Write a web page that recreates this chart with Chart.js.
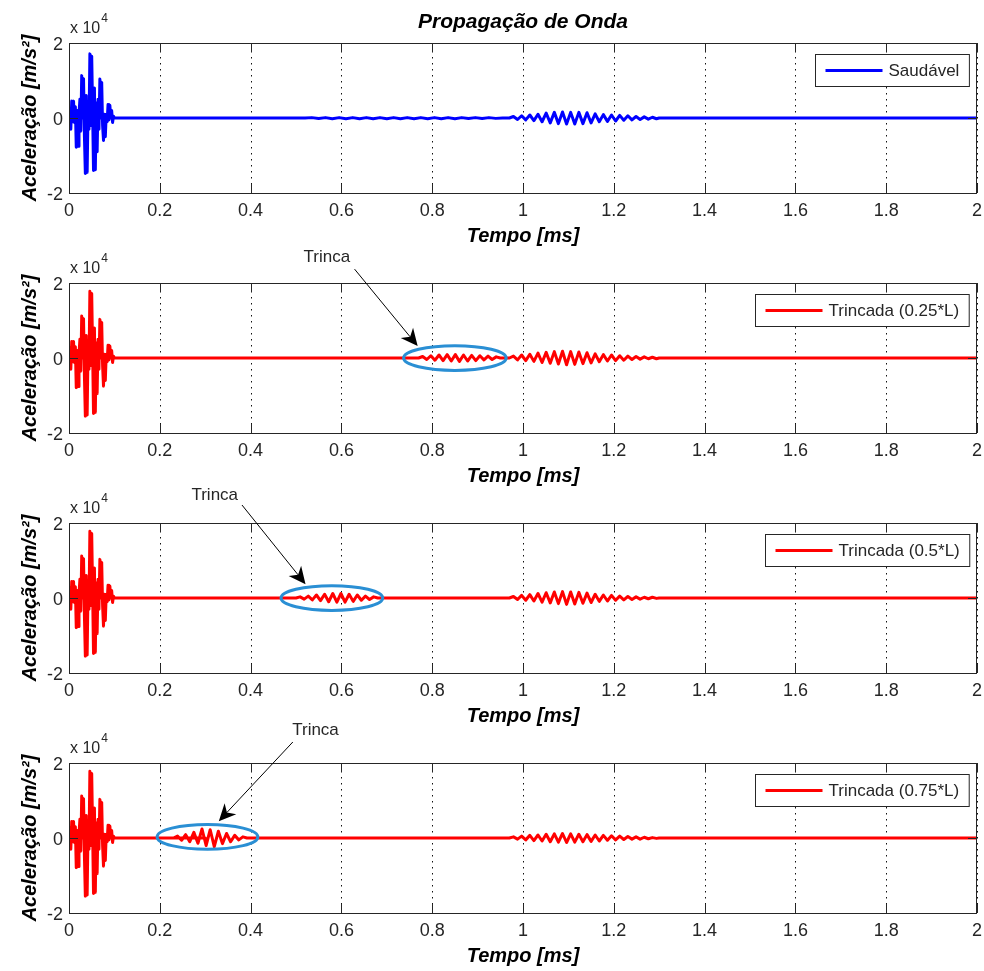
<!DOCTYPE html>
<html><head><meta charset="utf-8">
<script src="https://cdn.jsdelivr.net/npm/chart.js@4/dist/chart.umd.min.js"></script>
<style>
html,body{margin:0;padding:0;background:#fff;}
#wrap{position:relative;width:984px;height:971px;overflow:hidden;background:#fff;}
canvas{position:absolute;left:0;}
</style></head><body><div id="wrap">
<canvas id="c0" width="984" height="251" style="top:0px"></canvas>
<canvas id="c1" width="984" height="251" style="top:240px"></canvas>
<canvas id="c2" width="984" height="251" style="top:480px"></canvas>
<canvas id="c3" width="984" height="251" style="top:720px"></canvas>
</div>
<script>
// ---------- texts & ticks ----------
const tituloGeral = 'Propagação de Onda';
const rotuloX = 'Tempo [ms]';
const rotuloY = 'Aceleração [m/s²]';
const legendas = ['Saudável', 'Trincada (0.25*L)', 'Trincada (0.5*L)', 'Trincada (0.75*L)'];
const xTicks = [0, 0.2, 0.4, 0.6, 0.8, 1, 1.2, 1.4, 1.6, 1.8, 2];
const xTickLabels = ['0', '0.2', '0.4', '0.6', '0.8', '1', '1.2', '1.4', '1.6', '1.8', '2'];
const yTicks = [-2, 0, 2];
const yTickLabels = ['-2', '0', '2'];

// ---------- data (acceleration in units of 10^4 m/s², time in ms) ----------
// excitation burst (0 - 0.1 ms)
const burstT = [0,0.002,0.004,0.006,0.008,0.010,0.012,0.014,0.016,0.018,0.020,0.022,0.024,0.026,0.028,0.030,0.032,0.034,0.036,0.038,0.040,0.042,0.044,0.046,0.048,0.050,0.052,0.054,0.056,0.058,0.060,0.062,0.064,0.066,0.068,0.070,0.072,0.074,0.076,0.078,0.080,0.082,0.084,0.086,0.088,0.090,0.092,0.094,0.096,0.098,0.100];
const burstSaudavel = [0,0.25,-0.30,0.45,-0.10,0.45,-0.12,0.30,-0.78,0.20,-0.75,0.10,0.50,-0.35,1.13,0.00,1.05,-0.50,-1.48,0.60,-1.45,0.30,-0.30,1.71,-0.20,1.65,0.20,-1.40,0.80,-1.38,0.40,-0.90,0.50,-0.30,1.04,0.00,0.95,-0.20,-0.60,0.10,-0.50,0.10,-0.10,0.36,-0.05,0.34,0.00,0.20,-0.12,0.05,0];
const burstTrincada = [0,0.28,-0.30,0.44,-0.10,0.44,-0.12,0.30,-0.79,0.20,-0.76,0.10,0.50,-0.35,1.12,0.00,1.05,-0.50,-1.55,0.60,-1.52,0.30,-0.30,1.78,-0.20,1.72,0.20,-1.48,0.80,-1.45,0.40,-0.95,0.50,-0.30,1.03,0.00,0.95,-0.20,-0.75,0.10,-0.60,0.10,-0.10,0.34,-0.05,0.32,0.00,0.20,-0.12,0.05,0];

// boundary reflection (≈0.97 - 1.30 ms)
const reflexaoT = [0.970,0.979,0.988,0.997,1.006,1.015,1.024,1.033,1.042,1.051,1.060,1.069,1.078,1.087,1.096,1.105,1.114,1.123,1.132,1.141,1.150,1.159,1.168,1.177,1.186,1.195,1.204,1.213,1.222,1.231,1.240,1.249,1.258,1.267,1.276,1.285,1.294];
const reflexaoSaudavel = [0,0.04,-0.04,0.06,-0.05,0.08,-0.07,0.10,-0.10,0.13,-0.13,0.15,-0.15,0.16,-0.16,0.15,-0.16,0.15,-0.15,0.14,-0.13,0.11,-0.10,0.09,-0.09,0.08,-0.08,0.07,-0.06,0.06,-0.05,0.04,-0.04,0.03,-0.03,0.02,-0.02];
const reflexao025 = [0,0.05,-0.05,0.08,-0.07,0.10,-0.09,0.13,-0.12,0.15,-0.14,0.17,-0.16,0.18,-0.18,0.17,-0.17,0.16,-0.15,0.14,-0.13,0.11,-0.10,0.09,-0.08,0.08,-0.07,0.06,-0.06,0.05,-0.04,0.04,-0.03,0.03,-0.02,0.02,-0.02];
const reflexao050 = [0,0.04,-0.04,0.07,-0.06,0.09,-0.08,0.12,-0.11,0.14,-0.13,0.16,-0.15,0.17,-0.17,0.16,-0.16,0.15,-0.14,0.13,-0.12,0.10,-0.09,0.08,-0.08,0.07,-0.06,0.05,-0.05,0.04,-0.04,0.03,-0.03,0.02,-0.02,0.02,-0.01];
const reflexao075 = [0,0.03,-0.03,0.05,-0.05,0.07,-0.07,0.08,-0.08,0.10,-0.10,0.11,-0.11,0.12,-0.12,0.11,-0.11,0.10,-0.10,0.09,-0.09,0.08,-0.08,0.07,-0.06,0.06,-0.05,0.05,-0.04,0.04,-0.03,0.03,-0.03,0.02,-0.02,0.01,-0.01];

// small ripple of the healthy beam (0.52 - 0.96 ms)
const rippleT = [0.52,0.535,0.55,0.565,0.58,0.595,0.61,0.625,0.64,0.655,0.67,0.685,0.70,0.715,0.73,0.745,0.76,0.775,0.79,0.805,0.82,0.835,0.85,0.865,0.88,0.895,0.91,0.925,0.94,0.955];
const rippleSaudavel = [0,0.01,-0.015,0.01,-0.02,0.01,-0.02,0.01,-0.02,0.01,-0.02,0.01,-0.02,0.01,-0.02,0.01,-0.02,0.01,-0.02,0.01,-0.02,0.01,-0.02,0.01,-0.015,0.01,-0.015,0.01,-0.01,0];

// crack reflections
const trinca025T = [0.770,0.779,0.788,0.797,0.806,0.815,0.824,0.833,0.842,0.851,0.860,0.869,0.878,0.887,0.896,0.905,0.914,0.923,0.932,0.941,0.950];
const trinca025A = [0,0.04,-0.04,0.06,-0.06,0.08,-0.07,0.09,-0.08,0.09,-0.09,0.08,-0.08,0.07,-0.07,0.06,-0.05,0.05,-0.04,0.03,0];
const trinca050T = [0.500,0.509,0.518,0.527,0.536,0.545,0.554,0.563,0.572,0.581,0.590,0.599,0.608,0.617,0.626,0.635,0.644,0.653,0.662,0.671,0.680];
const trinca050A = [0,0.03,-0.03,0.05,-0.05,0.08,-0.07,0.10,-0.10,0.12,-0.11,0.12,-0.11,0.10,-0.09,0.08,-0.06,0.05,-0.04,0.03,0];
const trinca075T = [0.230,0.239,0.248,0.257,0.266,0.275,0.284,0.293,0.302,0.311,0.320,0.329,0.338,0.347,0.356,0.365,0.374,0.383,0.392];
const trinca075A = [0,0.05,-0.06,0.09,-0.10,0.15,-0.14,0.24,-0.20,0.22,-0.23,0.18,-0.15,0.12,-0.10,0.07,-0.05,0.03,0];

// quiet stretches
const quietoInicioT = [0.105, 0.3];
const quietoInicioA = [0, 0];
const quietoFimT = [1.30, 1.6, 2.0];
const quietoFimA = [0, 0, 0];

// ---------- build series ----------
function pts(ts, as){ return ts.map((t,i)=>({x:t, y:as[i]})); }
const series = [
  [].concat(pts(burstT,burstSaudavel), pts(quietoInicioT,quietoInicioA), pts(rippleT,rippleSaudavel), pts(reflexaoT,reflexaoSaudavel), pts(quietoFimT,quietoFimA)),
  [].concat(pts(burstT,burstTrincada), pts(quietoInicioT,quietoInicioA), pts(trinca025T,trinca025A), pts(reflexaoT,reflexao025), pts(quietoFimT,quietoFimA)),
  [].concat(pts(burstT,burstTrincada), pts(quietoInicioT,quietoInicioA), pts(trinca050T,trinca050A), pts(reflexaoT,reflexao050), pts(quietoFimT,quietoFimA)),
  [].concat(pts(burstT,burstTrincada), pts(quietoInicioT,quietoInicioA), pts(trinca075T,trinca075A), pts(reflexaoT,reflexao075), pts(quietoFimT,quietoFimA))
];
const cores = ['#0000ff', '#ff0000', '#ff0000', '#ff0000'];

// annotations in data coordinates (ellipse centre / radii, arrow, label)
const anotacoes = [
  null,
  {ex:0.850, ey:0.00, erx:0.113, ery:0.33, tx:0.568, ty:2.69, ax0:0.629, ay0:2.37, ax1:0.768, ay1:0.32},
  {ex:0.579, ey:0.00, erx:0.112, ery:0.33, tx:0.321, ty:2.75, ax0:0.381, ay0:2.48, ax1:0.521, ay1:0.37},
  {ex:0.305, ey:0.03, erx:0.111, ery:0.33, tx:0.543, ty:2.88, ax0:0.493, ay0:2.56, ax1:0.330, ay1:0.45}
];

const FONT = "'Liberation Sans', Arial, Helvetica, sans-serif";
const INK = '#262626';

function decoPlugin(idx){
  return {
    id: 'deco' + idx,
    beforeDatasetsDraw(chart){
      const ctx = chart.ctx, a = chart.chartArea, sx = chart.scales.x;
      ctx.save();
      ctx.strokeStyle = '#111'; ctx.lineWidth = 1;
      ctx.setLineDash([1.5, 4.5]);
      ctx.beginPath();
      xTicks.forEach(v=>{
        const px = Math.round(sx.getPixelForValue(v)) + 0.5;
        ctx.moveTo(px, a.top + 2); ctx.lineTo(px, a.bottom);
      });
      ctx.stroke();
      ctx.restore();
    },
    afterDatasetsDraw(chart){
      const ctx = chart.ctx, a = chart.chartArea, sx = chart.scales.x, sy = chart.scales.y;
      ctx.save();
      // frame
      ctx.strokeStyle = INK; ctx.lineWidth = 1;
      ctx.strokeRect(Math.round(a.left)+0.5, Math.round(a.top)+0.5, Math.round(a.right-a.left)-1, Math.round(a.bottom-a.top));
      // inner ticks
      ctx.beginPath();
      xTicks.forEach(v=>{
        const px = Math.round(sx.getPixelForValue(v))+0.5;
        ctx.moveTo(px, a.top); ctx.lineTo(px, a.top+9);
        ctx.moveTo(px, a.bottom); ctx.lineTo(px, a.bottom-9);
      });
      yTicks.forEach(v=>{
        const py = Math.round(sy.getPixelForValue(v))+0.5;
        ctx.moveTo(a.left, py); ctx.lineTo(a.left+9, py);
        ctx.moveTo(a.right, py); ctx.lineTo(a.right-9, py);
      });
      ctx.stroke();
      // tick labels
      ctx.fillStyle = INK;
      ctx.font = '18px ' + FONT;
      ctx.textAlign = 'center'; ctx.textBaseline = 'alphabetic';
      xTicks.forEach((v,i)=>{ ctx.fillText(xTickLabels[i], sx.getPixelForValue(v), a.bottom + 23); });
      ctx.textAlign = 'right';
      yTicks.forEach((v,i)=>{ ctx.fillText(yTickLabels[i], a.left - 6, sy.getPixelForValue(v) + 6.5); });
      // exponent label
      ctx.textAlign = 'left';
      ctx.font = '16px ' + FONT;
      ctx.fillText('x 10', a.left + 1, a.top - 10);
      const w10 = ctx.measureText('x 10').width;
      ctx.font = '12px ' + FONT;
      ctx.fillText('4', a.left + 2 + w10, a.top - 21);
      // axis titles
      ctx.fillStyle = '#000';
      ctx.font = 'italic bold 20px ' + FONT;
      ctx.textAlign = 'center';
      ctx.fillText(rotuloX, (a.left + a.right)/2, a.bottom + 49);
      ctx.save();
      ctx.translate(36, (a.top + a.bottom)/2);
      ctx.rotate(-Math.PI/2);
      ctx.fillText(rotuloY, 0, 0);
      ctx.restore();
      if (idx === 0){
        ctx.font = 'italic bold 21px ' + FONT;
        ctx.fillText(tituloGeral, (a.left + a.right)/2, a.top - 15);
      }
      // legend
      ctx.font = '17px ' + FONT;
      const tw = ctx.measureText(legendas[idx]).width;
      const bw = 10 + 57 + 6 + tw + 10, bh = 32;
      const bx = Math.round(a.right - 8 - bw) + 0.5, by = Math.round(a.top + 11) + 0.5;
      ctx.fillStyle = '#fff';
      ctx.fillRect(bx, by, bw, bh);
      ctx.strokeStyle = INK; ctx.lineWidth = 1;
      ctx.strokeRect(bx, by, bw, bh);
      ctx.strokeStyle = cores[idx]; ctx.lineWidth = 3;
      ctx.beginPath(); ctx.moveTo(bx + 10, by + bh/2); ctx.lineTo(bx + 67, by + bh/2); ctx.stroke();
      ctx.fillStyle = INK; ctx.textAlign = 'left'; ctx.textBaseline = 'middle';
      ctx.fillText(legendas[idx], bx + 73, by + bh/2 + 1);
      // annotation
      const an = anotacoes[idx];
      if (an){
        const cx = sx.getPixelForValue(an.ex), cy = sy.getPixelForValue(an.ey);
        const rx = sx.getPixelForValue(an.ex + an.erx) - cx;
        const ry = cy - sy.getPixelForValue(an.ey + an.ery);
        ctx.strokeStyle = '#2a8fd4'; ctx.lineWidth = 3;
        ctx.beginPath(); ctx.ellipse(cx, cy, rx, ry, 0, 0, Math.PI*2); ctx.stroke();
        const x0 = sx.getPixelForValue(an.ax0), y0 = sy.getPixelForValue(an.ay0);
        const x1 = sx.getPixelForValue(an.ax1), y1 = sy.getPixelForValue(an.ay1);
        const ang = Math.atan2(y1 - y0, x1 - x0);
        const L = 17, W = 8;
        ctx.strokeStyle = '#000'; ctx.lineWidth = 1;
        ctx.beginPath(); ctx.moveTo(x0, y0); ctx.lineTo(x1 - Math.cos(ang)*L*0.7, y1 - Math.sin(ang)*L*0.7); ctx.stroke();
        ctx.fillStyle = '#000';
        ctx.beginPath();
        ctx.moveTo(x1, y1);
        ctx.lineTo(x1 - Math.cos(ang)*L - Math.sin(ang)*W, y1 - Math.sin(ang)*L + Math.cos(ang)*W);
        ctx.lineTo(x1 - Math.cos(ang)*L*0.7, y1 - Math.sin(ang)*L*0.7);
        ctx.lineTo(x1 - Math.cos(ang)*L + Math.sin(ang)*W, y1 - Math.sin(ang)*L - Math.cos(ang)*W);
        ctx.closePath(); ctx.fill();
        ctx.fillStyle = INK;
        ctx.font = '17px ' + FONT;
        ctx.textAlign = 'center'; ctx.textBaseline = 'middle';
        ctx.fillText('Trinca', sx.getPixelForValue(an.tx), sy.getPixelForValue(an.ty));
      }
      ctx.restore();
    }
  };
}

for (let i = 0; i < 4; i++){
  new Chart(document.getElementById('c' + i), {
    type: 'scatter',
    data: { datasets: [{ data: series[i], showLine: true, borderColor: cores[i], borderWidth: 3, pointRadius: 0, tension: 0, fill: false, borderJoinStyle: 'round' }] },
    options: {
      responsive: false, animation: false, devicePixelRatio: 1,
      layout: { padding: { left: 69, top: 43, right: 7, bottom: 58 } },
      plugins: { legend: { display: false }, tooltip: { enabled: false }, title: { display: false } },
      scales: {
        x: {
          type: 'linear', min: 0, max: 2,
          afterBuildTicks: s => { s.ticks = xTicks.map(v => ({ value: v })); },
          afterFit: s => { s.height = 0; },
          ticks: { display: false },
          grid: { display: false },
          border: { display: false }
        },
        y: {
          type: 'linear', min: -2, max: 2,
          afterBuildTicks: s => { s.ticks = yTicks.map(v => ({ value: v })); },
          afterFit: s => { s.width = 0; },
          ticks: { display: false },
          grid: { display: false },
          border: { display: false }
        }
      }
    },
    plugins: [decoPlugin(i)]
  });
}
</script></body></html>
